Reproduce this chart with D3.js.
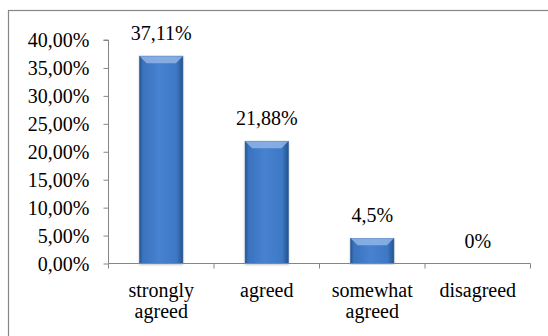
<!DOCTYPE html>
<html>
<head>
<meta charset="utf-8">
<script src="https://cdn.jsdelivr.net/npm/d3@7"></script>
<style>
  html, body { margin: 0; padding: 0; background: #fff; }
  svg { display: block; }
  text { font-family: "Liberation Serif", "Times New Roman", Times, "DejaVu Serif", serif; fill: #000; }
</style>
</head>
<body>
<svg id="chart" width="548" height="336"></svg>
<script>
// Survey answers and their shares (in percent)
const categories = ["strongly agreed", "agreed", "somewhat agreed", "disagreed"];
const categoryLines = [["strongly", "agreed"], ["agreed"], ["somewhat", "agreed"], ["disagreed"]];
const values = [37.11, 21.88, 4.5, 0];
const valueLabels = ["37,11%", "21,88%", "4,5%", "0%"];
const yTicks = [0, 5, 10, 15, 20, 25, 30, 35, 40];
const yTickLabels = ["0,00%", "5,00%", "10,00%", "15,00%", "20,00%", "25,00%", "30,00%", "35,00%", "40,00%"];

const FONT = "'Liberation Serif', 'Times New Roman', Times, 'DejaVu Serif', serif";
const svg = d3.select("#chart");
const axisColor = "#868686";

// Outer frame of the chart area
svg.append("rect")
  .attr("x", 8.5).attr("y", 10.5)
  .attr("width", 560).attr("height", 340)
  .attr("fill", "none").attr("stroke", axisColor).attr("stroke-width", 1.2);

const plot = { left: 108.5, right: 530.5, top: 40, bottom: 263.5 };

const y = d3.scaleLinear().domain([0, 40]).range([plot.bottom, plot.top]);
const x = d3.scaleBand().domain(categories)
  .range([plot.left, plot.right]).paddingInner(0.59).paddingOuter(0.295);
const xCells = d3.scaleBand().domain(categories).range([plot.left, plot.right]).padding(0);

// Bar fill: darker edges, brighter middle
const defs = svg.append("defs");
const grad = defs.append("linearGradient").attr("id", "barFill")
  .attr("x1", "0").attr("x2", "1").attr("y1", "0").attr("y2", "0");
[["0%", "#25548f"], ["7%", "#3a72bd"], ["45%", "#4782d0"], ["85%", "#3e78c5"], ["100%", "#25548f"]]
  .forEach(([o, c]) => grad.append("stop").attr("offset", o).attr("stop-color", c));
const soft = defs.append("filter").attr("id", "barShadow")
  .attr("x", "-20%").attr("y", "-5%").attr("width", "140%").attr("height", "110%");
soft.append("feDropShadow").attr("dx", 0).attr("dy", 1).attr("stdDeviation", 1.2)
  .attr("flood-color", "#000").attr("flood-opacity", 0.25);

// Y axis
const yAxis = d3.axisLeft(y).tickValues(yTicks)
  .tickFormat((d, i) => yTickLabels[i]).tickSize(5).tickPadding(14);
const gy = svg.append("g").attr("transform", `translate(${plot.left},0)`).call(yAxis)
  .attr("font-family", null).attr("font-size", null);
gy.select(".domain").attr("stroke", axisColor).attr("d", `M-5,${plot.top}H0V${plot.bottom}`);
gy.selectAll(".tick line").attr("stroke", axisColor);
gy.selectAll(".tick text").style("font-size", "20px").attr("dy", "0.33em")
  .style("font-family", FONT).attr("fill", "#000");

// Bars
const data = categories.map((c, i) => ({ c, v: values[i], label: valueLabels[i], lines: categoryLines[i] }));
const bars = svg.append("g").selectAll("g").data(data.filter(d => d.v > 0)).join("g");
bars.append("rect")
  .attr("x", d => x(d.c)).attr("y", d => y(d.v))
  .attr("width", x.bandwidth()).attr("height", d => y(0) - y(d.v))
  .attr("fill", "url(#barFill)").attr("stroke", "#2a5996").attr("stroke-width", 0.6)
  .attr("filter", "url(#barShadow)");
// Bevelled top face
bars.append("polygon")
  .attr("points", d => {
    const x0 = x(d.c), x1 = x0 + x.bandwidth(), t = y(d.v);
    const b = Math.min(7, (y(0) - t) / 2);
    return [[x0, t], [x1, t], [x1 - b, t + b], [x0 + b, t + b]].map(p => p.join(",")).join(" ");
  })
  .attr("fill", "#8fb5e6").attr("opacity", 0.85);

// X axis line with ticks at cell boundaries
const gx = svg.append("g");
gx.append("line").attr("x1", plot.left).attr("x2", plot.right)
  .attr("y1", plot.bottom).attr("y2", plot.bottom).attr("stroke", axisColor);
const bounds = categories.map(c => xCells(c)).concat([plot.right]);
gx.selectAll("line.tk").data(bounds).join("line").attr("class", "tk")
  .attr("x1", d => d).attr("x2", d => d)
  .attr("y1", plot.bottom).attr("y2", plot.bottom + 5).attr("stroke", axisColor);

// Value labels
svg.append("g").selectAll("text").data(data).join("text")
  .attr("x", d => x(d.c) + x.bandwidth() / 2).attr("y", d => y(d.v) - 16)
  .attr("text-anchor", "middle").style("font-size", "20px").style("font-family", FONT)
  .text(d => d.label);

// Category labels
const cl = svg.append("g").selectAll("text").data(data).join("text")
  .attr("x", d => x(d.c) + x.bandwidth() / 2).attr("y", plot.bottom + 33.5)
  .attr("text-anchor", "middle").style("font-size", "20px").style("font-family", FONT);
cl.selectAll("tspan").data(d => d.lines.map(l => ({ l, cx: x(d.c) + x.bandwidth() / 2 }))).join("tspan")
  .attr("x", t => t.cx).attr("dy", (t, i) => i === 0 ? 0 : 21)
  .text(t => t.l);
</script>
</body>
</html>
